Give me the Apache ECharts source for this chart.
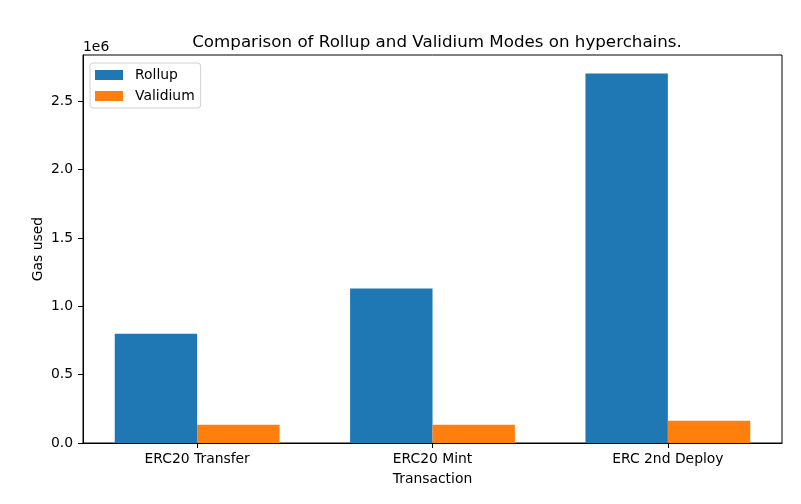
<!DOCTYPE html>
<html>
<head>
<meta charset="utf-8">
<script src="https://cdn.jsdelivr.net/npm/echarts@6/dist/echarts.min.js"></script>
<style>
  html, body { margin: 0; padding: 0; background: #fff; }
  #chart { width: 801px; height: 504px; }
</style>
</head>
<body>
<div id="chart"></div>
<script>
// 数据
var categories = ['ERC20 Transfer', 'ERC20 Mint', 'ERC 2nd Deploy'];
var rollupValues = [800000, 1130000, 2703000];
var validiumValues = [134000, 133000, 163000];
var yTicks = [0, 500000, 1000000, 1500000, 2000000, 2500000];

var font = 'DejaVu Sans';
var axisLabel = {
    color: '#000',
    fontSize: 13.9,
    fontFamily: font
};

var myChart = echarts.init(document.getElementById('chart'));

function pairs(values) {
    return values.map(function (v, i) { return [i, v]; });
}

var option = {
    animation: false,
    backgroundColor: '#fff',
    title: {
        text: 'Comparison of Rollup and Validium Modes on hyperchains.',
        left: 432,
        textAlign: 'center',
        top: 29,
        textStyle: { fontFamily: font, fontSize: 16.7, fontWeight: 'normal', color: '#000' }
    },
    legend: {
        orient: 'vertical',
        left: 90,
        top: 63,
        padding: [5, 6, 5, 5],
        itemWidth: 28,
        itemHeight: 10,
        itemGap: 7,
        icon: 'rect',
        borderColor: '#d0d0d0',
        borderWidth: 1,
        borderRadius: 3,
        backgroundColor: '#fff',
        textStyle: { fontFamily: font, fontSize: 13.9, color: '#000', padding: [0, 0, 0, 7] },
        data: ['Rollup', 'Validium']
    },
    grid: {
        left: 83,
        right: 19,
        top: 55,
        bottom: 61,
        show: true,
        borderColor: '#000',
        borderWidth: 1,
        containLabel: false
    },
    xAxis: {
        type: 'value',
        min: -0.485,
        max: 2.485,
        name: 'Transaction',
        nameLocation: 'middle',
        nameGap: 29,
        nameMoveOverlap: false,
        nameTextStyle: { fontFamily: font, fontSize: 13.9, color: '#000' },
        splitLine: { show: false },
        axisLine: { show: true, onZero: false, lineStyle: { color: '#000' } },
        axisTick: { show: true, inside: false, length: 5, customValues: [0, 1, 2], lineStyle: { color: '#000' } },
        axisLabel: Object.assign({}, axisLabel, {
            margin: 9,
            customValues: [0, 1, 2],
            formatter: function (v) { return categories[Math.round(v)]; }
        })
    },
    yAxis: {
        type: 'value',
        min: 0,
        max: 2838000,
        interval: 500000,
        name: 'Gas used',
        nameLocation: 'middle',
        nameGap: 38,
        nameRotate: 90,
        nameMoveOverlap: false,
        nameTextStyle: { fontFamily: font, fontSize: 13.9, color: '#000' },
        splitLine: { show: false },
        axisLine: { show: true, onZero: false, lineStyle: { color: '#000' } },
        axisTick: { show: true, inside: false, length: 5, customValues: yTicks, lineStyle: { color: '#000' } },
        axisLabel: Object.assign({}, axisLabel, {
            margin: 10,
            customValues: yTicks,
            formatter: function (v) { return (v / 1e6).toFixed(1); }
        })
    },
    graphic: [{
        type: 'text',
        left: 83,
        top: 40,
        style: { text: '1e6', fontFamily: font, fontSize: 13.9, fill: '#000' }
    }],
    series: [
        {
            name: 'Rollup',
            type: 'bar',
            barWidth: 82.4,
            barGap: '0%',
            data: pairs(rollupValues),
            itemStyle: { color: '#1f77b4' }
        },
        {
            name: 'Validium',
            type: 'bar',
            barWidth: 82.4,
            barGap: '0%',
            data: pairs(validiumValues),
            itemStyle: { color: '#ff7f0e' }
        }
    ]
};
myChart.setOption(option);
</script>
</body>
</html>
